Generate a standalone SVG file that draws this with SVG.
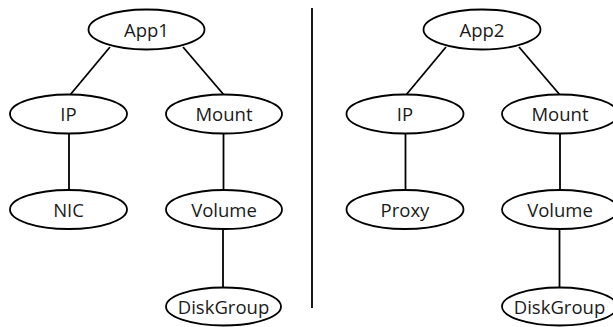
<svg xmlns="http://www.w3.org/2000/svg" width="613" height="327" viewBox="0 0 613 327">
<style>
.n ellipse{fill:#fff;stroke:#000;stroke-width:1.8}
.n text{font-family:"Open Sans","Noto Sans",sans-serif;font-size:18.5px;fill:#1a1a1a;text-anchor:middle}
#connectors line{stroke:#000;stroke-width:1.8}
</style>
<rect width="613" height="327" fill="#fff"/>
<g id="connectors">
<line x1="110" y1="47" x2="70" y2="95"/>
<line x1="183" y1="47" x2="224" y2="95"/>
<line x1="69" y1="133" x2="69" y2="190"/>
<line x1="223.5" y1="133" x2="223.5" y2="190"/>
<line x1="223" y1="229" x2="223" y2="288"/>
<line x1="446" y1="47" x2="406" y2="95"/>
<line x1="519" y1="47" x2="560" y2="95"/>
<line x1="405.5" y1="133" x2="405.5" y2="190"/>
<line x1="560" y1="133" x2="560" y2="190"/>
<line x1="559.5" y1="229" x2="559.5" y2="288"/>
<line x1="312" y1="8" x2="312" y2="308"/>
</g>
<g id="app1" class="n"><ellipse cx="146.5" cy="29.5" rx="58" ry="20"/><text x="146.5" y="36.5">App1</text></g>
<g id="ip1" class="n"><ellipse cx="68.5" cy="114" rx="58.5" ry="19.5"/><text x="68.5" y="121">IP</text></g>
<g id="mount1" class="n"><ellipse cx="224" cy="114" rx="58" ry="19.5"/><text x="224" y="121">Mount</text></g>
<g id="nic" class="n"><ellipse cx="68.5" cy="209.5" rx="58.5" ry="19.5"/><text x="68.5" y="216.5">NIC</text></g>
<g id="volume1" class="n"><ellipse cx="224" cy="209.5" rx="58" ry="19.5"/><text x="224" y="217">Volume</text></g>
<g id="diskgroup1" class="n"><ellipse cx="223.5" cy="306.5" rx="57.5" ry="19"/><text x="223.5" y="313.5">DiskGroup</text></g>
<g id="app2" class="n"><ellipse cx="482" cy="29.5" rx="58.5" ry="20"/><text x="482" y="36.5">App2</text></g>
<g id="ip2" class="n"><ellipse cx="405" cy="114" rx="58.5" ry="19.5"/><text x="405" y="121">IP</text></g>
<g id="mount2" class="n"><ellipse cx="560" cy="114" rx="58" ry="19.5"/><text x="560" y="121">Mount</text></g>
<g id="proxy" class="n"><ellipse cx="405" cy="209.5" rx="58.5" ry="19.5"/><text x="405" y="216.5">Proxy</text></g>
<g id="volume2" class="n"><ellipse cx="560" cy="209.5" rx="58" ry="19.5"/><text x="560" y="217">Volume</text></g>
<g id="diskgroup2" class="n"><ellipse cx="559.5" cy="306.5" rx="57.5" ry="19"/><text x="559.5" y="313.5">DiskGroup</text></g>
</svg>
